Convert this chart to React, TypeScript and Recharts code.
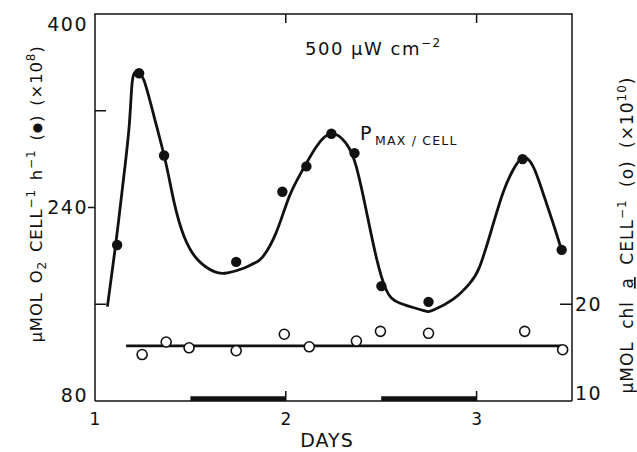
import React from 'react';
import { ComposedChart, Line, Scatter, XAxis, YAxis, ReferenceArea } from 'recharts';

// ---- data ----
const curveDays = [1.065, 1.109, 1.143, 1.179, 1.196, 1.222, 1.257, 1.31, 1.371, 1.415, 1.467, 1.537, 1.625, 1.695, 1.782, 1.835, 1.878, 1.949, 2.018, 2.088, 2.159, 2.237, 2.316, 2.369, 2.421, 2.474, 2.526, 2.596, 2.718, 2.771, 2.876, 2.963, 3.016, 3.077, 3.138, 3.191, 3.243, 3.296, 3.348, 3.401, 3.445];
const curveO2 = [158, 210, 255, 307, 345, 352, 345, 315, 277, 244, 216, 197, 187, 186, 190, 194, 199, 219, 249, 271, 290, 301, 293, 274, 238, 199, 172, 161, 155, 155, 164, 177, 191, 221, 252, 271, 281, 274, 252, 227, 205];

const o2Days = [1.116, 1.231, 1.362, 1.74, 1.982, 2.108, 2.239, 2.36, 2.501, 2.748, 3.241, 3.446];
const o2Values = [209, 351, 283, 195, 253, 274, 301, 285, 175, 162, 280, 205];

const chlDays = [1.247, 1.373, 1.493, 1.74, 1.992, 2.123, 2.37, 2.496, 2.748, 3.252, 3.451];
const chlValues = [14.8, 16.1, 15.5, 15.2, 16.9, 15.6, 16.2, 17.2, 17.0, 17.2, 15.3];

const chlMeanDays = [1.163, 3.45];
const chlMeanValues = [15.7, 15.7];

const darkStarts = [1.5, 2.5];
const darkEnds = [2.0, 3.0];

const dayRange = [1, 3.5];
const o2Range = [80, 400];
const chlRange = [10, 50];
const leftTicks = [80, 160, 240, 320, 400];
const leftLabeled = [80, 240, 400];
const rightTicks = [10, 20];
const xTicks = [1, 2, 3];
const topTicks = [2, 3];

// ---- tables built from the arrays ----
const curveData = curveDays.map((d, i) => ({ day: d, v: curveO2[i] }));
const o2Data = o2Days.map((d, i) => ({ day: d, v: o2Values[i] }));
const chlData = chlDays.map((d, i) => ({ day: d, v: chlValues[i] }));
const chlMeanData = chlMeanDays.map((d, i) => ({ day: d, v: chlMeanValues[i] }));

const FONT = '"DejaVu Sans", sans-serif';
const INK = '#111';

// layout
const W = 637;
const H = 452;
const MARGIN = { top: 14, right: 64, bottom: 50, left: 94 };
const AXIS_W = 1;
const PLOT_LEFT = MARGIN.left + AXIS_W;
const PLOT_RIGHT = W - MARGIN.right - AXIS_W;
const PLOT_TOP = MARGIN.top;
const dayToX = (d: number) => PLOT_LEFT + ((d - dayRange[0]) / (dayRange[1] - dayRange[0])) * (PLOT_RIGHT - PLOT_LEFT);

function LeftTick(props: any) {
  const { x, y, payload } = props;
  const v = payload.value;
  const labeled = leftLabeled.includes(v);
  const edge = v === o2Range[0] || v === o2Range[1];
  const dy = v === o2Range[1] ? 10 : v === o2Range[0] ? -6 : 0;
  return (
    <g>
      {!edge && labeled && <line x1={x - 7} x2={x} y1={y} y2={y} stroke={INK} strokeWidth={1.5} />}
      {!edge && !labeled && <line x1={x} x2={x + 11} y1={y} y2={y} stroke={INK} strokeWidth={1.5} />}
      {labeled && (
        <text x={x - 7} y={y + dy} dy="0.36em" textAnchor="end" fontFamily={FONT} fontSize={19} letterSpacing={1.5} fill={INK}>
          {v}
        </text>
      )}
    </g>
  );
}

function RightTick(props: any) {
  const { x, y, payload } = props;
  const v = payload.value;
  const dy = v === chlRange[0] ? -8 : 0;
  return (
    <g>
      {v !== chlRange[0] && <line x1={x - 12} x2={x} y1={y} y2={y} stroke={INK} strokeWidth={1.5} />}
      <text x={x + 3} y={y + dy} dy="0.36em" textAnchor="start" fontFamily={FONT} fontSize={19} letterSpacing={1.5} fill={INK}>
        {v}
      </text>
    </g>
  );
}

function BottomTick(props: any) {
  const { x, y, payload } = props;
  const v = payload.value;
  return (
    <g>
      {v !== dayRange[0] && <line x1={x} x2={x} y1={y} y2={y - 10} stroke={INK} strokeWidth={1.5} />}
      <text x={x} y={y + 18} dy="0.36em" textAnchor="middle" fontFamily={FONT} fontSize={17} fill={INK}>
        {v}
      </text>
    </g>
  );
}

function FilledDot(props: any) {
  const { cx, cy } = props;
  return <circle cx={cx} cy={cy} r={5.2} fill={INK} />;
}

function OpenDot(props: any) {
  const { cx, cy } = props;
  return <circle cx={cx} cy={cy} r={5} fill="#fff" stroke={INK} strokeWidth={1.6} />;
}

export default function App() {
  return (
    <div style={{ position: 'absolute', left: 0, top: 0, width: W, height: H, background: '#fff' }}>
      <ComposedChart width={W} height={H} margin={MARGIN}>
        <XAxis
          dataKey="day"
          type="number"
          domain={dayRange}
          ticks={xTicks}
          height={1}
          tickSize={0}
          tickMargin={0}
          tickLine={false}
          tick={<BottomTick />}
          axisLine={{ stroke: INK, strokeWidth: 1.5 }}
        />
        <YAxis
          yAxisId="left"
          type="number"
          domain={o2Range}
          ticks={leftTicks}
          width={AXIS_W}
          tickSize={0}
          tickMargin={0}
          tickLine={false}
          tick={<LeftTick />}
          axisLine={{ stroke: INK, strokeWidth: 1.5 }}
        />
        <YAxis
          yAxisId="right"
          orientation="right"
          type="number"
          domain={chlRange}
          ticks={rightTicks}
          width={AXIS_W}
          tickSize={0}
          tickMargin={0}
          tickLine={false}
          tick={<RightTick />}
          axisLine={{ stroke: INK, strokeWidth: 1.5 }}
        />
        {darkStarts.map((s, i) => (
          <ReferenceArea
            key={'dark' + i}
            yAxisId="left"
            x1={s}
            x2={darkEnds[i]}
            y1={80}
            y2={84}
            fill={INK}
            fillOpacity={1}
            stroke="none"
            ifOverflow="visible"
          />
        ))}
        <Line
          yAxisId="left"
          data={curveData}
          dataKey="v"
          type="natural"
          stroke={INK}
          strokeWidth={2.8}
          dot={false}
          activeDot={false}
          isAnimationActive={false}
        />
        <Line
          yAxisId="right"
          data={chlMeanData}
          dataKey="v"
          type="linear"
          stroke={INK}
          strokeWidth={2.6}
          dot={false}
          activeDot={false}
          isAnimationActive={false}
        />
        <Scatter yAxisId="left" data={o2Data} dataKey="v" shape={<FilledDot />} isAnimationActive={false} />
        <Scatter yAxisId="right" data={chlData} dataKey="v" shape={<OpenDot />} isAnimationActive={false} />
      </ComposedChart>
      <svg width={W} height={H} style={{ position: 'absolute', left: 0, top: 0, pointerEvents: 'none' }}>
        <line x1={PLOT_LEFT - 0.75} x2={PLOT_RIGHT + 0.75} y1={PLOT_TOP} y2={PLOT_TOP} stroke={INK} strokeWidth={1.5} />
        {topTicks.map((t) => (
          <line key={'tt' + t} x1={dayToX(t)} x2={dayToX(t)} y1={PLOT_TOP} y2={PLOT_TOP + 9} stroke={INK} strokeWidth={1.5} />
        ))}
        <text x={305} y={55} fontFamily={FONT} fontSize={18} letterSpacing={1.5} fill={INK}>
          <tspan>500 μW cm</tspan>
          <tspan fontSize={12} dy={-8}>−2</tspan>
        </text>
        <text x={360} y={140} fontFamily={FONT} fontSize={19} fill={INK}>
          <tspan>P</tspan>
          <tspan x={375} y={145} fontSize={12.5} letterSpacing={1.2}>MAX / CELL</tspan>
        </text>
        <text x={327} y={447} fontFamily={FONT} fontSize={19} textAnchor="middle" letterSpacing={1} fill={INK}>
          DAYS
        </text>
        <text
          transform="translate(42,194) rotate(-90)"
          textAnchor="middle"
          fontFamily={FONT}
          fontSize={16.5}
          letterSpacing={0.8}
          wordSpacing={3}
          fill={INK}
        >
          <tspan>μMOL O</tspan>
          <tspan fontSize={12} dy={4}>2</tspan>
          <tspan dy={-4}> CELL</tspan>
          <tspan fontSize={12} dy={-7}>−1</tspan>
          <tspan dy={7}> h</tspan>
          <tspan fontSize={12} dy={-7}>−1</tspan>
          <tspan dy={7}> (</tspan>
          <tspan fontSize={12} dy={-1}>●</tspan>
          <tspan dy={1}>) (×10</tspan>
          <tspan fontSize={12} dy={-7}>8</tspan>
          <tspan dy={7}>)</tspan>
        </text>
        <text
          transform="translate(633,235) rotate(-90)"
          textAnchor="middle"
          fontFamily={FONT}
          fontSize={17}
          letterSpacing={1}
          wordSpacing={6}
          fill={INK}
        >
          <tspan>μMOL chl </tspan>
          <tspan textDecoration="underline">a</tspan>
          <tspan> CELL</tspan>
          <tspan fontSize={12} dy={-7}>−1</tspan>
          <tspan dy={7}> (o) (×10</tspan>
          <tspan fontSize={12} dy={-7}>10</tspan>
          <tspan dy={7}>)</tspan>
        </text>
      </svg>
    </div>
  );
}
